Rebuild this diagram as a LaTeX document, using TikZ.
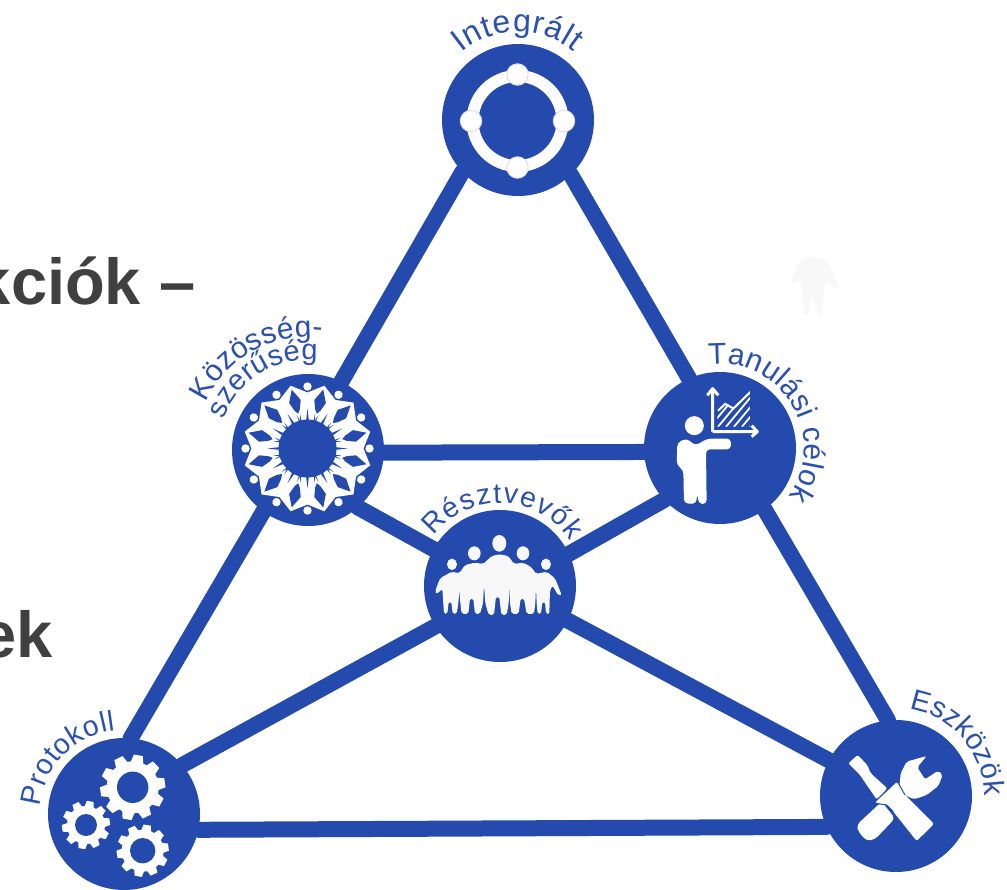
\documentclass[tikz,border=0pt]{standalone}
\usepackage{fontspec}
\setmainfont{Liberation Sans}
\usetikzlibrary{calc,decorations.text}
\definecolor{hubblue}{HTML}{244AAD}
\definecolor{labelblue}{HTML}{2A50B0}
\definecolor{bgtext}{HTML}{404040}
\definecolor{paleshape}{HTML}{F8F8F8}
\tikzset{
  hub/.style={circle,fill=hubblue,minimum size=152pt,inner sep=0pt,outer sep=0pt},
  link/.style={draw=hubblue,line width=16pt,line cap=round},
  herotext/.style={font=\fontsize{65}{65}\selectfont\bfseries,text=bgtext,inner sep=0pt},
  zoomgrid/.style={x=0.3333pt,y=-0.3333pt},
}
\newcommand{\curvedlabel}[6]{% node, radius, start, end, size, text
  \path[decorate,decoration={text along path,text align={fit to path},
    text={|\fontsize{#5}{#5}\selectfont\color{labelblue}|#6}}]
    ($(#1)+(#3:#2pt)$) arc[start angle=#3,end angle=#4,radius=#2pt];}
\newcommand{\gearicon}[5]{% x,y,hole,body,tip
  \begin{scope}[shift={(#1,#2)}]
    \fill[white] (0,0) circle[radius=#4pt];
    \foreach \t in {0,36,...,324}{
      \fill[white,rotate=\t+8] (#4pt-2pt,-0.20*#5pt) -- (#5pt,-0.14*#5pt) -- (#5pt,0.14*#5pt) -- (#4pt-2pt,0.20*#5pt) -- cycle;
    }
    \fill[hubblue] (0,0) circle[radius=#3pt];
  \end{scope}}
\begin{document}
\begin{tikzpicture}[x=1pt,y=-1pt]
\useasboundingbox (0,0) rectangle (1007,890);
\clip (0,0) rectangle (1007,890);
\fill[white] (0,0) rectangle (1007,890);

% cropped background text
\node[herotext,anchor=base east] (head) at (195.5,304.5) {kciók –};
\node[herotext,anchor=base east] (tail) at (53,657) {ek};

% pale ghost figure
\begin{scope}[shift={(770,240)},zoomgrid]
  \fill[paleshape,rounded corners=6pt] (130,45) -- (90,60) -- (60,130) -- (68,140) -- (92,110) -- (100,215) -- (115,230) -- (125,170) -- (132,170) -- (142,230) -- (158,215) -- (165,110) -- (195,148) -- (207,140) -- (170,60) -- cycle;
\end{scope}

% hubs
\node[hub] (int) at (518,120) {};
\node[hub] (koz) at (308,450) {};
\node[hub] (tan) at (720,448) {};
\node[hub] (res) at (500,586) {};
\node[hub] (pro) at (124,814) {};
\node[hub] (esz) at (896,796) {};

% connectors
\draw[link] (int.223.6) -- (koz.64.6);
\draw[link] (koz.234.6) -- (pro.85.4);
\draw[link] (int.-46.3) -- (tan.114.2);
\draw[link] (tan.-54.2) -- (esz.96);
\draw[link] (koz.-2) -- (tan.183);
\draw[link] (pro.-12) -- (esz.204);
\draw[link] (koz.-49.8) -- (res.151.5);
\draw[link] (tan.223.4) -- (res.25.5);
\draw[link] (pro.40.2) -- (res.212.2);
\draw[link] (esz.152.7) -- (res.-27.6);

% Integralt icon
\begin{scope}[shift={(517.5,121)}]
  \draw[white,line width=12pt] (0,0) circle[radius=45pt];
  \foreach \p in {(0,-46.5),(-46.5,0),(46.5,0),(0,46.5)}{
    \fill[white,draw=black!12,line width=1pt] \p circle[radius=10.7pt];
  }
\end{scope}

% Kozosseg icon
\begin{scope}[shift={(307.5,448.5)}]
  \fill[white] (0:56pt)
    \foreach \a in {0,30,...,330}{ -- (\a:56pt) -- (\a+15:65pt) } -- cycle;
  \foreach \a in {0,30,...,330}{
    \begin{scope}[rotate=\a]
      \fill[white] (62pt,0) circle[radius=4.2pt];
      \fill[hubblue] (15:61pt) -- (8:49pt) -- (11:40pt) -- (15:36pt) -- (19:40pt) -- (22:49pt) -- cycle;
      \fill[hubblue] (24pt,-1.8pt) -- (40pt,0) -- (24pt,1.8pt) -- cycle;
      \fill[hubblue] (13:25pt) -- (12:35pt) -- (15:29pt) -- (18:35pt) -- (17:25pt) -- cycle;
    \end{scope}
  }
  \fill[hubblue] (0,0) circle[radius=29pt];
\end{scope}

% Tanulasi icon
\begin{scope}[shift={(630,330)},zoomgrid]
  \fill[white] (193,287) circle[radius=9.5pt];
  \fill[white,rounded corners=4pt] (170,325) -- (142,338) -- (140,405) -- (160,420) -- (162,520) -- (198,522) -- (202,490) -- (206,522) -- (230,522) -- (228,358) -- (303,358) -- (303,326) -- (232,326) -- (196,347) -- cycle;
  \draw[white,line width=3pt,line join=round] (248,305) -- (248,178) (232,196) -- (248,176) -- (265,196);
  \draw[white,line width=3pt,line join=round] (248,305) -- (380,305) (365,287) -- (382,305) -- (365,320);
  \begin{scope}
    \clip (262,240) -- (285,218) -- (310,232) -- (360,183) -- (360,290) -- (262,290) -- cycle;
    \foreach \d in {-30,-6,...,180}{
      \draw[white,line width=1.8pt] (262+\d,300) -- (362+\d,180);
    }
    \draw[white,line width=4pt] (262,240) -- (285,218) -- (310,232) -- (360,183);
  \end{scope}
\end{scope}

% Resztvevok icon
\begin{scope}[shift={(410,490)},zoomgrid]
  \fill[paleshape] (268,160) ellipse[x radius=7pt,y radius=8.3pt];
  \fill[paleshape] (193,190) ellipse[x radius=6.3pt,y radius=7pt];
  \fill[paleshape] (339,190) ellipse[x radius=6.3pt,y radius=7pt];
  \fill[paleshape] (126,223) ellipse[x radius=5pt,y radius=5.7pt];
  \fill[paleshape] (408,223) ellipse[x radius=5pt,y radius=5.7pt];
  \fill[paleshape,rounded corners=2pt] (75,305) -- (90,265) -- (125,245) -- (148,250) -- (165,225) -- (195,218) -- (220,222) -- (245,198) -- (268,193) -- (295,198) -- (312,222) -- (340,218) -- (365,232) -- (378,252) -- (410,245) -- (435,265) -- (455,315) -- (445,317) -- (428,287) -- (420,300) -- (418,372) -- (408,372) -- (405,335) -- (397,335) -- (393,372) -- (383,372) -- (380,340) -- (378,292) -- (376,340) -- (372,372) -- (350,372) -- (342,325) -- (332,325) -- (326,372) -- (305,372) -- (300,340) -- (298,285) -- (296,340) -- (290,375) -- (274,375) -- (268,320) -- (258,320) -- (252,375) -- (236,375) -- (226,340) -- (222,285) -- (219,340) -- (210,372) -- (195,372) -- (190,325) -- (180,325) -- (175,372) -- (155,372) -- (151,340) -- (148,300) -- (145,340) -- (140,372) -- (128,372) -- (124,335) -- (116,335) -- (112,372) -- (102,372) -- (97,297) -- (80,312) -- cycle;
\end{scope}

% Protokoll icon
\gearicon{132.7}{787.3}{15.7}{26}{32.5}
\gearicon{86}{825}{11}{19}{24}
\gearicon{142.7}{850.7}{12.7}{21}{26}

% Eszkozok icon
\begin{scope}[shift={(810,680)},zoomgrid]
  \fill[white,rounded corners=2pt] (115,250) -- (143,225) -- (172,255) -- (182,280) -- (232,325) -- (200,358) -- (160,300) -- (150,285) -- cycle;
  \fill[white,rounded corners=4pt] (140,435) -- (215,365) -- (255,415) -- (195,478) -- (170,483) -- (145,455) -- cycle;
  \fill[white,rounded corners=2pt] (195,368) -- (262,305) -- (285,345) -- (372,432) -- (320,483) -- (250,395) -- (232,375) -- cycle;
  \fill[white,rounded corners=2pt] (350,228) -- (322,262) -- (345,298) -- (385,272) -- (398,285) -- (385,318) -- (350,345) -- (312,358) -- (285,345) -- (268,322) -- (272,280) -- (290,245) -- cycle;
  \draw[hubblue,line width=1pt] (195,370) -- (230,375) -- (250,395);
  \draw[hubblue,line width=1pt] (262,305) -- (272,322) -- (285,345);
\end{scope}

% curved labels
\curvedlabel{int}{88}{130}{51}{32}{Integrált}
\curvedlabel{koz}{113}{155}{83}{30}{Közösség-}
\curvedlabel{koz}{90}{160}{84}{29}{szerűség}
\curvedlabel{tan}{84}{98}{-35}{30}{Tanulási célok}
\curvedlabel{res}{83}{143}{33}{28.5}{Résztvevők}
\curvedlabel{pro}{84}{175}{96}{28.5}{Protokoll}
\curvedlabel{esz}{88}{81}{0}{29}{Eszközök}
\end{tikzpicture}
\end{document}
